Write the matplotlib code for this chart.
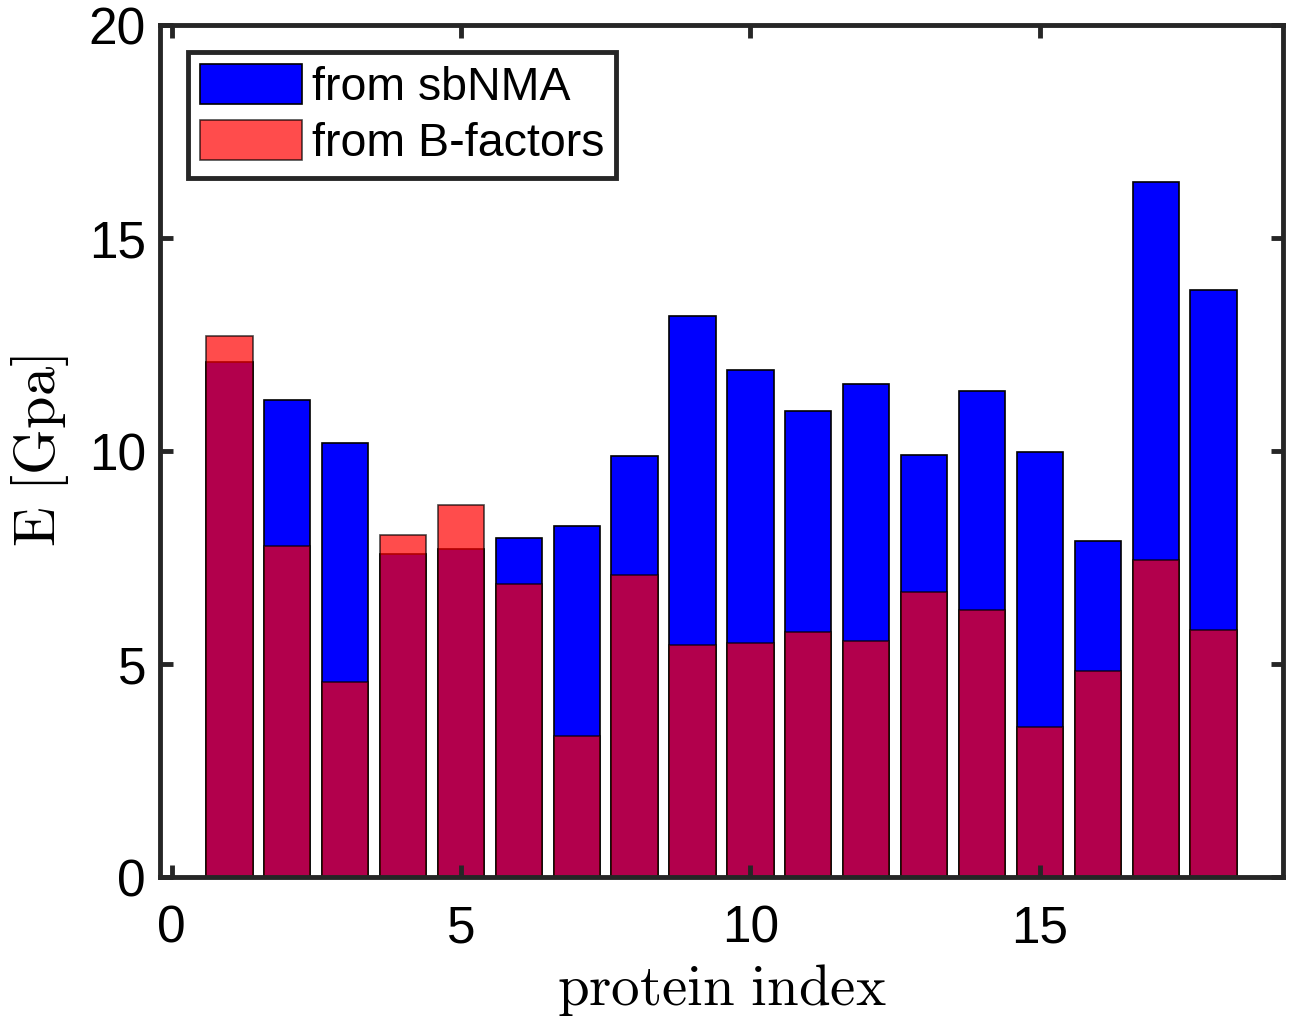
import matplotlib
matplotlib.use("Agg")
import matplotlib.pyplot as plt

plt.rcParams['font.family'] = ['Liberation Sans', 'DejaVu Sans']
plt.rcParams['mathtext.fontset'] = 'cm'

protein = list(range(1, 19))
sbnma = [12.1, 11.2, 10.2, 7.58, 7.7, 7.96, 8.24, 9.88, 13.17, 11.9,
         10.94, 11.57, 9.9, 11.41, 9.98, 7.89, 16.31, 13.78]
bfactors = [12.7, 7.76, 4.57, 8.03, 8.73, 6.88, 3.31, 7.09, 5.45, 5.49,
            5.75, 5.54, 6.69, 6.27, 3.52, 4.84, 7.44, 5.8]

fig = plt.figure(figsize=(12.93, 10.18), dpi=100)
ax = fig.add_axes([0.1237, 0.1385, 0.8686, 0.8369])

ax.bar(protein, sbnma, width=0.8, color='#0000ff', edgecolor='black',
       linewidth=1.2, label='from sbNMA')
ax.bar(protein, bfactors, width=0.8, color='#ff0000', alpha=0.7,
       edgecolor='black', linewidth=1.2, label='from B-factors')

ax.set_xlim(-0.2, 19.2)
ax.set_ylim(0, 20)
ax.set_xticks([0, 5, 10, 15])
ax.set_yticks([0, 5, 10, 15, 20])

for s in ax.spines.values():
    s.set_linewidth(3.5)
    s.set_color('#262626')
ax.tick_params(direction='in', length=9, width=3.5, top=True, right=True,
               labelsize=37, colors='#262626')
ax.tick_params(axis='x', pad=20)
ax.tick_params(axis='y', pad=10)
for lab in ax.get_xticklabels() + ax.get_yticklabels():
    lab.set_color('black')

ax.set_xlabel(r'$\mathrm{protein\ index}$', fontsize=41, labelpad=6)
ax.set_ylabel(r'$\mathrm{E\ [Gpa]}$', fontsize=42, labelpad=13)

leg = ax.legend(loc='upper left', fontsize=33.5, handlelength=2.2,
                handleheight=0.95, handletextpad=0.2, borderpad=0.25,
                labelspacing=0.22, fancybox=False, framealpha=1,
                bbox_to_anchor=(0.0045, 0.9953))
leg.get_frame().set_edgecolor('#262626')
leg.get_frame().set_linewidth(3.5)

fig.savefig('out.png', dpi=100)
